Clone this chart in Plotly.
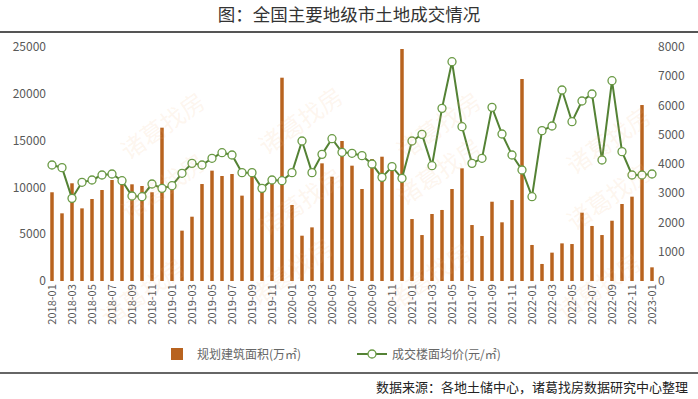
import plotly.graph_objects as go

months = [f"{y}-{m:02d}" for y in range(2018, 2023) for m in range(1, 13)] + ["2023-01"]

area = [9480, 7230, 10440, 7760, 8760, 9720, 10790, 10360, 10330, 10150, 9480, 16380,
        9800, 5380, 6870, 10360, 11790, 11220, 11430, 9120, 11150, 9620, 10440, 21720,
        8120, 4840, 5730, 12570, 11150, 14960, 12320, 9830, 13030, 13280, 11750, 24790,
        6620, 4910, 7160, 7590, 9830, 12040, 5980, 4810, 8470, 6270, 8650, 21580,
        3850, 1820, 3030, 4020, 3950, 7300, 5880, 4910, 6440, 8230, 9010, 18800,
        1460]

price = [3966, 3875, 2826, 3374, 3453, 3624, 3658, 3430, 2906, 2883, 3316, 3168,
         3259, 3681, 4022, 3966, 4194, 4387, 4308, 3704, 3704, 3168, 3453, 3430,
         3704, 4786, 3704, 4330, 4866, 4399, 4365, 4285, 4000, 3544, 3909, 3510,
         4786, 5014, 3943, 5903, 7498, 5276, 4022, 4194, 5937, 5026, 4308, 3795,
         2883, 5140, 5299, 6530, 5447, 6154, 6393, 4137, 6849, 4422, 3624, 3624,
         3658]

tick_labels = months[::2]

FONT = "Noto Sans CJK SC"
GRAY = "#595959"

fig = go.Figure()
fig.add_trace(go.Bar(
    x=months, y=area, name="规划建筑面积(万㎡)",
    marker=dict(color="#B8631F", line=dict(width=0)),
    yaxis="y",
))
fig.add_trace(go.Scatter(
    x=months, y=price, name="成交楼面均价(元/㎡)", mode="lines+markers",
    line=dict(color="#548235", width=2),
    marker=dict(size=8, color="white", line=dict(color="#6A9A45", width=1.3)),
    yaxis="y2",
))

annotations = [
    dict(text="数据来源：各地土储中心，诸葛找房数据研究中心整理", xref="paper", yref="paper",
         x=1.054, y=-0.449, xanchor="right", yanchor="middle", showarrow=False,
         font=dict(size=13, color="#222222", family=FONT)),
]
for (px, py) in [(110, 80), (300, 75), (490, 80), (660, 95), (110, 230), (300, 200), (490, 215),
                 (660, 240), (90, 335), (290, 315), (480, 320), (650, 330)]:
    annotations.append(dict(
        text="诸葛找房", xref="paper", yref="paper",
        x=(px - 47) / 610, y=(281 - py) / 234, showarrow=False, textangle=-35,
        font=dict(size=24, color="rgba(245,185,130,0.14)", family=FONT),
    ))

fig.update_layout(
    width=698, height=399,
    margin=dict(l=47, r=41, t=47, b=118),
    paper_bgcolor="white", plot_bgcolor="white",
    font=dict(family=FONT, color=GRAY, size=11),
    title=dict(text="图：全国主要地级市土地成交情况", x=0.5, xanchor="center",
               y=1 - 15 / 399, yanchor="middle",
               font=dict(size=17.5, color="#333333", family=FONT)),
    bargap=0.65,
    showlegend=True,
    legend=dict(orientation="h", x=0.5, xanchor="center", y=-0.312, yanchor="middle",
                font=dict(size=12, color="#666666", family=FONT),
                entrywidth=150, entrywidthmode="pixels"),
    xaxis=dict(type="category", range=[-0.5, 60.5], tickmode="array",
               tickvals=tick_labels, ticktext=tick_labels, tickangle=-90,
               showgrid=False, showline=False, zeroline=False, ticks="",
               tickfont=dict(size=11, color=GRAY)),
    yaxis=dict(range=[0, 25000], dtick=5000, tickformat="d", showgrid=False, zeroline=False,
               showline=False, tickfont=dict(size=12, color=GRAY)),
    yaxis2=dict(range=[0, 8000], dtick=1000, tickformat="d", overlaying="y", side="right",
                showgrid=False, zeroline=False, showline=False,
                tickfont=dict(size=12, color=GRAY)),
    shapes=[
        dict(type="line", xref="paper", yref="paper", x0=-0.1, x1=1.1,
             y0=(281 - 32) / 234, y1=(281 - 32) / 234, line=dict(color="#555555", width=2)),
        dict(type="line", xref="paper", yref="paper", x0=-0.1, x1=1.1,
             y0=(281 - 373) / 234, y1=(281 - 373) / 234, line=dict(color="#333333", width=1.5)),
    ],
    annotations=annotations,
)

fig.write_html("out.html")
